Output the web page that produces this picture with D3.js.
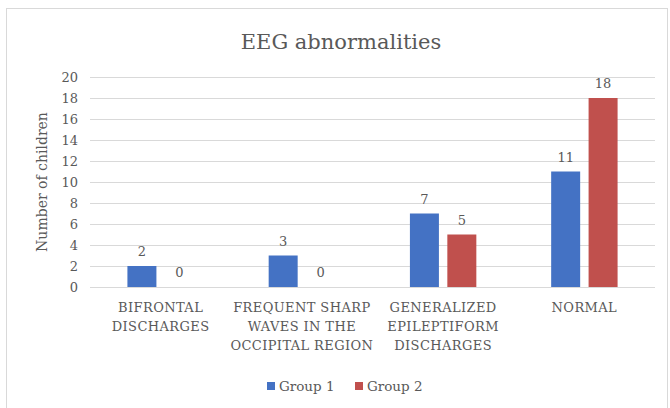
<!DOCTYPE html>
<html>
<head>
<meta charset="utf-8">
<script src="https://cdn.jsdelivr.net/npm/d3@7"></script>
<style>
  html, body { margin: 0; padding: 0; background: #fff; }
  svg { display: block; }
  text { font-family: "DejaVu Serif", "Liberation Serif", serif; fill: #595959; }
</style>
</head>
<body>
<svg id="chart" width="670" height="408"></svg>
<script>
// Categories (multi-line labels) and the two groups' counts
const categories = [
  ["BIFRONTAL", "DISCHARGES"],
  ["FREQUENT SHARP", "WAVES IN THE", "OCCIPITAL REGION"],
  ["GENERALIZED", "EPILEPTIFORM", "DISCHARGES"],
  ["NORMAL"]
];
const seriesNames = ["Group 1", "Group 2"];
const group1 = [2, 3, 7, 11];
const group2 = [0, 0, 5, 18];
const yTicks = [0, 2, 4, 6, 8, 10, 12, 14, 16, 18, 20];
const colors = ["#4472C4", "#C0504D"];

const svg = d3.select("#chart");
const plot = { left: 90, right: 655, top: 77, bottom: 287 };

// outer chart frame
svg.append("rect")
  .attr("x", 6.5).attr("y", 8.5)
  .attr("width", 661).attr("height", 405)
  .attr("fill", "#fff").attr("stroke", "#d9d9d9");

svg.append("text")
  .attr("x", 341).attr("y", 49)
  .attr("text-anchor", "middle")
  .style("font-size", "21px")
  .text("EEG abnormalities");

const x0 = d3.scaleBand()
  .domain(d3.range(categories.length))
  .range([plot.left, plot.right]);
const x1 = d3.scaleBand()
  .domain(d3.range(seriesNames.length))
  .range([0, x0.bandwidth()])
  .paddingInner(0.225)
  .paddingOuter(1.0);
const y = d3.scaleLinear().domain([0, 20]).range([plot.bottom, plot.top]);

// gridlines and tick labels
const yAxis = d3.axisLeft(y).tickValues(yTicks).tickSize(-(plot.right - plot.left)).tickPadding(12);
const gy = svg.append("g").attr("transform", `translate(${plot.left},0)`).call(yAxis);
gy.select(".domain").remove();
gy.selectAll(".tick line").attr("stroke", "#d9d9d9");
gy.selectAll(".tick text").style("font-size", "13px").attr("fill", "#595959");

// category axis baseline
svg.append("line")
  .attr("x1", plot.left).attr("x2", plot.right)
  .attr("y1", y(0) + 0.5).attr("y2", y(0) + 0.5)
  .attr("stroke", "#d9d9d9");

// y-axis title
svg.append("text")
  .attr("transform", `translate(47,${(plot.top + plot.bottom) / 2}) rotate(-90)`)
  .attr("text-anchor", "middle")
  .style("font-size", "14px")
  .text("Number of children");

const data = categories.map((c, i) => ({ i, values: [group1[i], group2[i]] }));

const groups = svg.append("g").selectAll("g")
  .data(data).join("g")
  .attr("transform", d => `translate(${x0(d.i)},0)`);

groups.selectAll("rect")
  .data(d => d.values.map((v, s) => ({ v, s })))
  .join("rect")
  .attr("x", d => x1(d.s))
  .attr("y", d => y(d.v))
  .attr("width", x1.bandwidth())
  .attr("height", d => y(0) - y(d.v))
  .attr("fill", d => colors[d.s]);

groups.selectAll("text.val")
  .data(d => d.values.map((v, s) => ({ v, s })))
  .join("text")
  .attr("class", "val")
  .attr("x", d => x1(d.s) + x1.bandwidth() / 2)
  .attr("y", d => y(d.v) - 10)
  .attr("text-anchor", "middle")
  .style("font-size", "13px")
  .text(d => d.v);

// category labels
groups.each(function (d) {
  const t = d3.select(this).append("text")
    .attr("text-anchor", "middle")
    .style("font-size", "13px")
    .style("letter-spacing", "0.4px");
  categories[d.i].forEach((line, k) => {
    t.append("tspan")
      .attr("x", x0.bandwidth() / 2)
      .attr("y", 312 + k * 19)
      .text(line);
  });
});

// legend
const legend = svg.append("g");
const legendX = [267, 355];
seriesNames.forEach((name, s) => {
  legend.append("rect")
    .attr("x", legendX[s]).attr("y", 382)
    .attr("width", 8).attr("height", 8)
    .attr("fill", colors[s]);
  legend.append("text")
    .attr("x", legendX[s] + 12).attr("y", 391)
    .style("font-size", "13.5px")
    .text(name);
});
</script>
</body>
</html>
